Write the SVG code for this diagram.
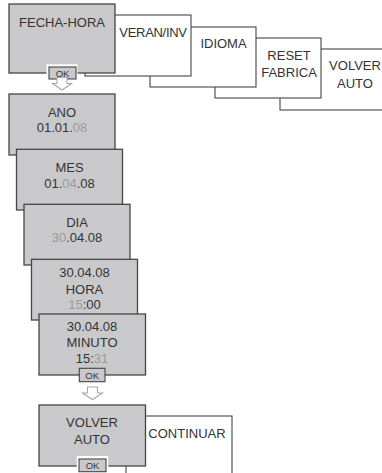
<svg xmlns="http://www.w3.org/2000/svg" width="382" height="473" viewBox="0 0 382 473">
<style>
.g{fill:#c9c9cb;stroke:#454545;stroke-width:1.3}
.w{fill:#ffffff;stroke:#454545;stroke-width:1.1}
.t{font-family:"Liberation Sans",Arial,sans-serif;font-size:13px;fill:#333333;text-anchor:middle}
.l{fill:#9a9a9a}
.okb{fill:#c9c9cb;stroke:#454545;stroke-width:1.1}
.okt{font-family:"Liberation Sans",Arial,sans-serif;font-size:9.5px;fill:#333333;text-anchor:middle}
.arr{fill:#ffffff;stroke:#a8a8a8;stroke-width:1.1}
</style>
<rect width="382" height="473" fill="#ffffff"/>
<g id="volver-auto-top"><rect class="w" x="280" y="49" width="106" height="61"/><text class="t" x="355" y="70">VOLVER</text><text class="t" x="355" y="88">AUTO</text></g>
<g id="reset-fabrica"><rect class="w" x="215" y="38" width="106" height="60"/><text class="t" x="289" y="60">RESET</text><text class="t" x="289" y="77">FABRICA</text></g>
<g id="idioma"><rect class="w" x="150" y="27" width="106" height="60"/><text class="t" x="223.5" y="48.3">IDIOMA</text></g>
<g id="veran-inv"><rect class="w" x="85" y="15" width="106" height="61"/><text class="t" x="153" y="37" letter-spacing="-0.3">VERAN/INV</text></g>
<g id="fecha-hora"><rect class="g" x="9" y="4" width="106" height="69"/><text class="t" x="62" y="27">FECHA-HORA</text>
<rect x="46.5" y="64.3" width="31" height="16.4" fill="#ffffff"/><rect class="okb" x="49" y="67" width="27" height="12"/><text class="okt" x="62.5" y="76.5">OK</text></g>
<g id="ano"><rect class="g" x="9" y="94" width="106" height="61"/><text class="t" x="62" y="117.3">ANO</text><text class="t" x="62" y="132">01.01.<tspan class="l">08</tspan></text></g>
<g id="mes"><rect class="g" x="16.5" y="149.3" width="106" height="60.7"/><text class="t" x="69.5" y="172.3">MES</text><text class="t" x="69.5" y="187.7">01.<tspan class="l">04</tspan>.08</text></g>
<g id="dia"><rect class="g" x="24" y="204.3" width="106" height="60.7"/><text class="t" x="77" y="227.3">DIA</text><text class="t" x="77" y="242.3"><tspan class="l">30</tspan>.04.08</text></g>
<g id="hora"><rect class="g" x="31.5" y="259.3" width="106" height="60.7"/><text class="t" x="84.5" y="277.3">30.04.08</text><text class="t" x="84.5" y="294">HORA</text><text class="t" x="84.5" y="309.3"><tspan class="l">15</tspan>:00</text></g>
<g id="minuto"><rect class="g" x="39" y="314" width="106.5" height="61"/><text class="t" x="92" y="330.7">30.04.08</text><text class="t" x="92" y="346.7">MINUTO</text><text class="t" x="92" y="362.7">15:<tspan class="l">31</tspan></text>
<rect class="okb" x="79.3" y="368.3" width="25.7" height="13.4"/><text class="okt" x="92.2" y="378.6">OK</text></g>
<g id="continuar"><rect class="w" x="126" y="416" width="106" height="62"/><text class="t" x="187" y="438.3">CONTINUAR</text></g>
<g id="volver-auto"><rect class="g" x="39" y="405" width="106.5" height="61"/><text class="t" x="92" y="427">VOLVER</text><text class="t" x="92" y="443.5">AUTO</text>
<rect x="76.7" y="456" width="31.6" height="20" fill="#ffffff"/><rect class="okb" x="79" y="459" width="27" height="12.7"/><text class="okt" x="92.5" y="469">OK</text></g>
<g id="connectors">
<path class="arr" d="M57 77.5 H67 V83.5 H71.5 L62 90 L52.5 83.5 H57 Z"/>
<path class="arr" d="M87.5 387 H97.5 V393 H102.5 L92.5 399.5 L82.5 393 H87.5 Z"/>
</g>
</svg>
